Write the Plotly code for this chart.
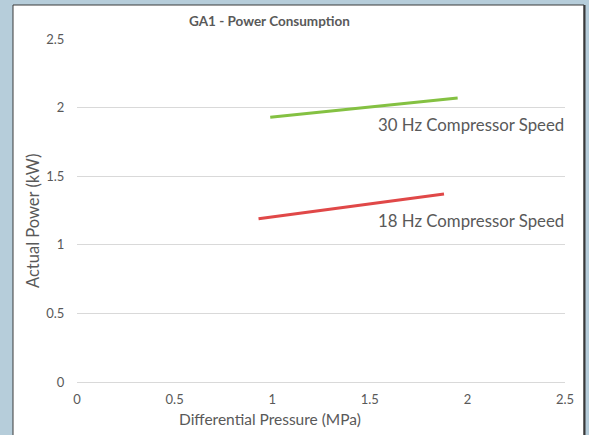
import plotly.graph_objects as go

# Data
pressure_30hz = [0.99, 1.95]
power_30hz = [1.93, 2.07]
pressure_18hz = [0.93, 1.88]
power_18hz = [1.19, 1.37]
x_ticks = [0, 0.5, 1, 1.5, 2, 2.5]
y_ticks = [0, 0.5, 1, 1.5, 2, 2.5]
series_labels = ["30 Hz Compressor Speed", "18 Hz Compressor Speed"]

W, H = 589, 435
L, R, T, B = 77, 24, 39, 53
pw, ph = W - L - R, H - T - B

def px(x):
    return (x - L) / pw

def py(y):
    return (H - B - y) / ph

FONT = "Lato"
GREY = "#595959"

fig = go.Figure()
fig.add_trace(go.Scatter(x=pressure_30hz, y=power_30hz, mode="lines",
                         line=dict(color="#84c142", width=3), showlegend=False))
fig.add_trace(go.Scatter(x=pressure_18hz, y=power_18hz, mode="lines",
                         line=dict(color="#e04848", width=3), showlegend=False))

shapes = [
    dict(type="rect", xref="paper", yref="paper", x0=px(13), x1=px(584), y0=py(445), y1=py(5),
         fillcolor="white", line=dict(color="#3a3a3a", width=1), layer="below"),
    dict(type="line", xref="paper", yref="paper", x0=px(584.5), x1=px(584.5), y0=py(445), y1=py(5),
         line=dict(color="#3a3a3a", width=2), layer="below"),
]

annotations = [
    dict(text="<b>GA1 - Power Consumption</b>", xref="paper", yref="paper", x=px(269.5), y=py(21),
         showarrow=False, font=dict(family=FONT, size=13.5, color=GREY), xanchor="center", yanchor="middle"),
    dict(text="Differential Pressure (MPa)", xref="paper", yref="paper", x=px(269.5), y=py(419),
         showarrow=False, font=dict(family=FONT, size=15.5, color=GREY), xanchor="center", yanchor="middle"),
    dict(text="Actual Power (kW)", xref="paper", yref="paper", x=px(33), y=py(221), textangle=-90,
         showarrow=False, font=dict(family=FONT, size=16.5, color=GREY), xanchor="center", yanchor="middle"),
    dict(text=series_labels[0], xref="paper", yref="paper", x=px(566), y=py(124),
         showarrow=False, font=dict(family=FONT, size=16.8, color=GREY), xanchor="right", yanchor="middle"),
    dict(text=series_labels[1], xref="paper", yref="paper", x=px(566), y=py(221),
         showarrow=False, font=dict(family=FONT, size=16.8, color=GREY), xanchor="right", yanchor="middle"),
]

fig.update_layout(
    width=W, height=H,
    margin=dict(l=L, r=R, t=T, b=B, pad=0),
    paper_bgcolor="#b6cdda",
    plot_bgcolor="white",
    shapes=shapes,
    annotations=annotations,
    font=dict(family=FONT, color=GREY),
    xaxis=dict(range=[0, 2.5], tickvals=x_ticks, showgrid=False, zeroline=False, showline=False,
               ticks="outside", ticklen=5, tickcolor="rgba(0,0,0,0)",
               tickfont=dict(family=FONT, size=13, color=GREY), fixedrange=True),
    yaxis=dict(range=[0, 2.5], tickvals=y_ticks, showgrid=True, gridcolor="#d9d9d9", gridwidth=1,
               zeroline=True, zerolinecolor="#d9d9d9", zerolinewidth=1, showline=False,
               ticks="outside", ticklen=9, tickcolor="rgba(0,0,0,0)",
               tickfont=dict(family=FONT, size=13, color=GREY), fixedrange=True),
)

fig.write_html("out.html", config={"displayModeBar": False},
               post_script="document.body.style.margin='0';document.body.style.overflow='hidden';")
